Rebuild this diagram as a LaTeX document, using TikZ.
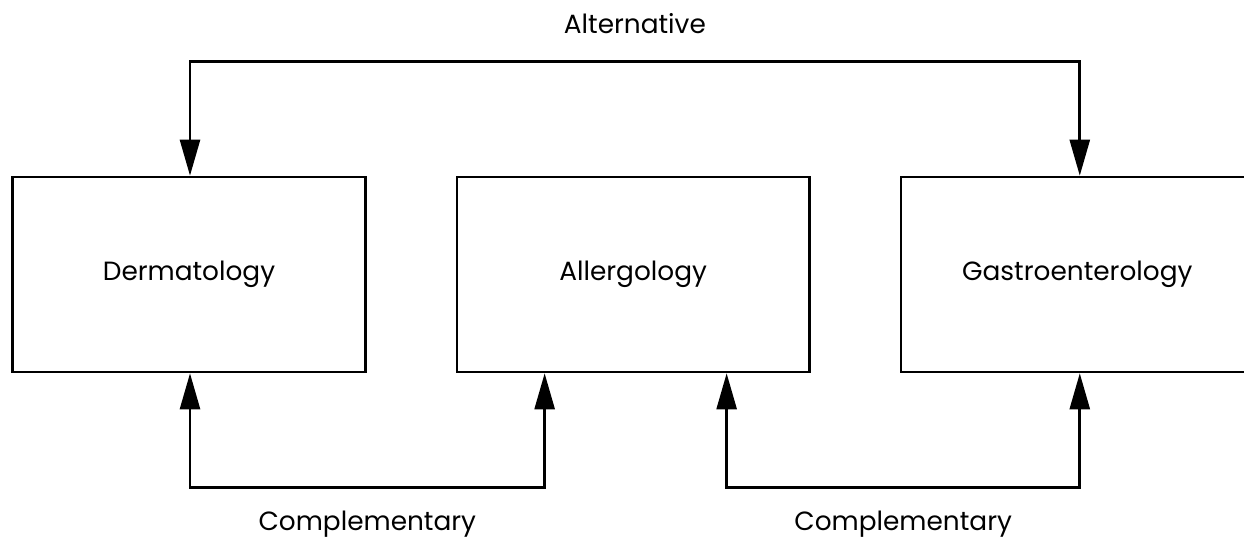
\documentclass[tikz,border=0pt]{standalone}
\usepackage{fontspec}
\setmainfont{Poppins}
\usetikzlibrary{arrows.meta,positioning}

\begin{document}
\begin{tikzpicture}[
  field/.style={draw,line width=1.5pt,minimum width=7.05cm,minimum height=3.9cm,inner sep=0pt,font=\fontsize{15}{18}\selectfont},
  link/.style={line width=1.5pt,{Triangle[length=0.72cm,width=0.4cm]}-{Triangle[length=0.72cm,width=0.4cm]}},
  tag/.style={font=\fontsize{15}{18}\selectfont}
]
  \useasboundingbox (0,0) rectangle (24.88,10.8);

  % Draw the three fields
  \node[field] (derm) at (3.78,5.31) {Dermatology};
  \node[field,right=1.78cm of derm] (allerg) {Allergology};
  \node[field,right=1.78cm of allerg] (gastro) {Gastroenterology};

  % Alternative link on top
  \draw[link] ([xshift=0.02cm]derm.north) -- ++(0,2.28)
    -| node[tag,pos=0.25,anchor=base,yshift=0.56cm] (alt) {Alternative}
    ([xshift=0.05cm]gastro.north);

  % Complementary links below
  \draw[link] ([xshift=0.02cm]derm.south) -- ++(0,-2.28)
    -| node[tag,pos=0.25,anchor=base,yshift=-0.86cm] (comp1) {Complementary}
    ([xshift=-1.77cm]allerg.south);
  \draw[link] ([xshift=1.87cm]allerg.south) -- ++(0,-2.28)
    -| node[tag,pos=0.25,anchor=base,yshift=-0.86cm] (comp2) {Complementary}
    ([xshift=0.05cm]gastro.south);
\end{tikzpicture}
\end{document}
